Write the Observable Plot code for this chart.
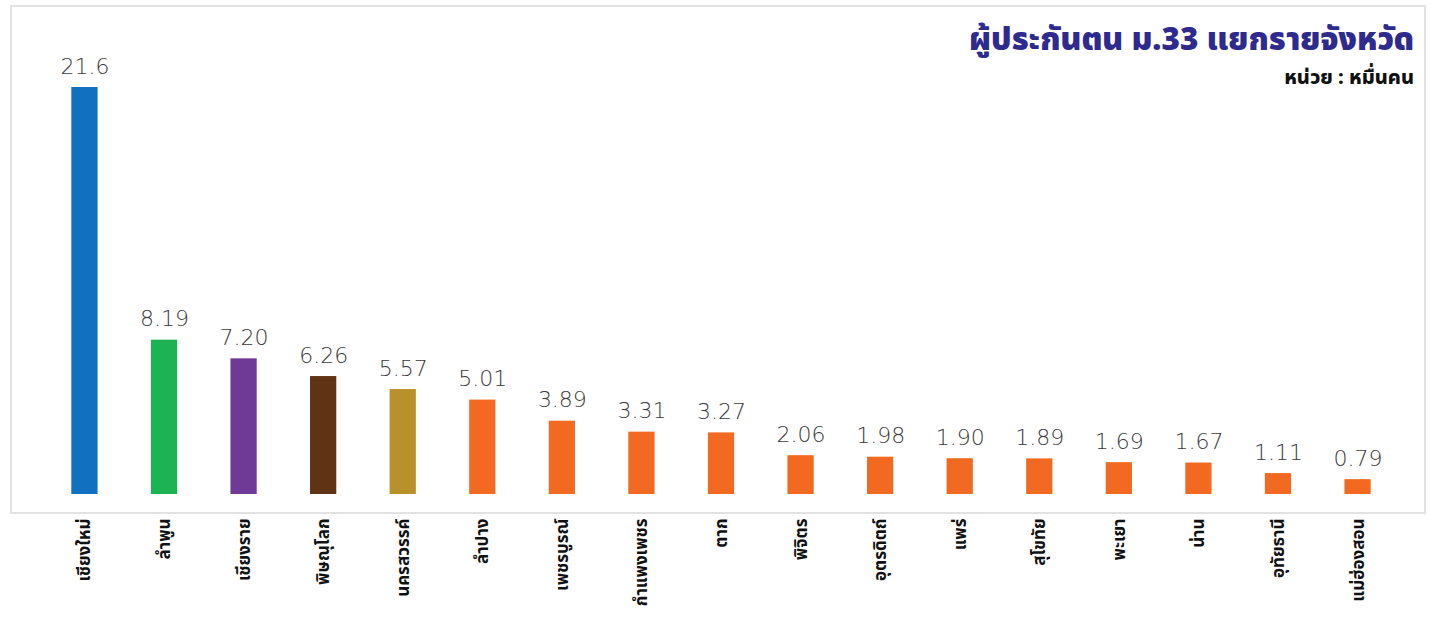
<!DOCTYPE html>
<html>
<head>
<meta charset="utf-8">
<script src="https://cdn.jsdelivr.net/npm/d3@7"></script>
<script src="https://cdn.jsdelivr.net/npm/@observablehq/plot@0.6"></script>
<style>
  html, body { margin: 0; padding: 0; background: #fff; }
  #wrap { position: relative; width: 1430px; height: 618px; overflow: hidden; }
  #frame { position: absolute; left: 10px; top: 5px; width: 1412px; height: 505px; border: 2px solid #e2e2e2; box-sizing: content-box; }
  #title { position: absolute; right: 16px; top: 25px; font-family: "Noto Sans Thai", "Noto Sans", sans-serif; font-weight: 900; font-size: 31.5px; color: #2e2a8e; line-height: 1; white-space: nowrap; }
  #unit { position: absolute; right: 16px; top: 68px; font-family: "Noto Sans Thai", "Noto Sans", sans-serif; font-weight: 800; font-size: 20px; color: #111; line-height: 1; white-space: nowrap; }
  #chart { position: absolute; left: 0; top: 0; }
</style>
</head>
<body>
<div id="wrap">
  <div id="frame"></div>
  <div id="chart"></div>
  <div id="title">ผู้ประกันตน ม.33 แยกรายจังหวัด</div>
  <div id="unit">หน่วย : หมื่นคน</div>
</div>
<script>
const provinces = ["เชียงใหม่","ลำพูน","เชียงราย","พิษณุโลก","นครสวรรค์","ลำปาง","เพชรบูรณ์","กำแพงเพชร","ตาก","พิจิตร","อุตรดิตถ์","แพร่","สุโขทัย","พะเยา","น่าน","อุทัยธานี","แม่ฮ่องสอน"];
const values = [21.6, 8.19, 7.20, 6.26, 5.57, 5.01, 3.89, 3.31, 3.27, 2.06, 1.98, 1.90, 1.89, 1.69, 1.67, 1.11, 0.79];
const valueLabels = ["21.6","8.19","7.20","6.26","5.57","5.01","3.89","3.31","3.27","2.06","1.98","1.90","1.89","1.69","1.67","1.11","0.79"];
const barColors = ["#1170c0","#1db354","#6f3a96","#5e3414","#b8912a","#f26a21","#f26a21","#f26a21","#f26a21","#f26a21","#f26a21","#f26a21","#f26a21","#f26a21","#f26a21","#f26a21","#f26a21"];

const data = provinces.map((p, i) => ({province: p, value: values[i], label: valueLabels[i], color: barColors[i]}));

const chart = Plot.plot({
  width: 1430,
  height: 618,
  marginLeft: 18,
  marginRight: 6,
  marginTop: 87,
  marginBottom: 124,
  x: {domain: provinces, padding: 0.67, round: false, label: null},
  y: {domain: [0, 21.6], axis: null},
  style: {background: "transparent", overflow: "visible"},
  marks: [
    Plot.barY(data, {x: "province", y: "value", fill: "color"}),
    Plot.text(data, {x: "province", y: "value", text: "label", dy: -14, lineAnchor: "bottom",
      fontSize: 22, fill: "#3a3a3a", fontFamily: "DejaVu Sans", fontWeight: 300,
      style: "letter-spacing: 3px"}),
    Plot.axisX({tickSize: 0, tickPadding: 24, tickRotate: -90, fontSize: 17, fontWeight: 700,
      fontFamily: "Noto Sans Thai, Noto Sans, sans-serif", fill: "#111", label: null})
  ]
});
document.getElementById("chart").appendChild(chart);
</script>
</body>
</html>
